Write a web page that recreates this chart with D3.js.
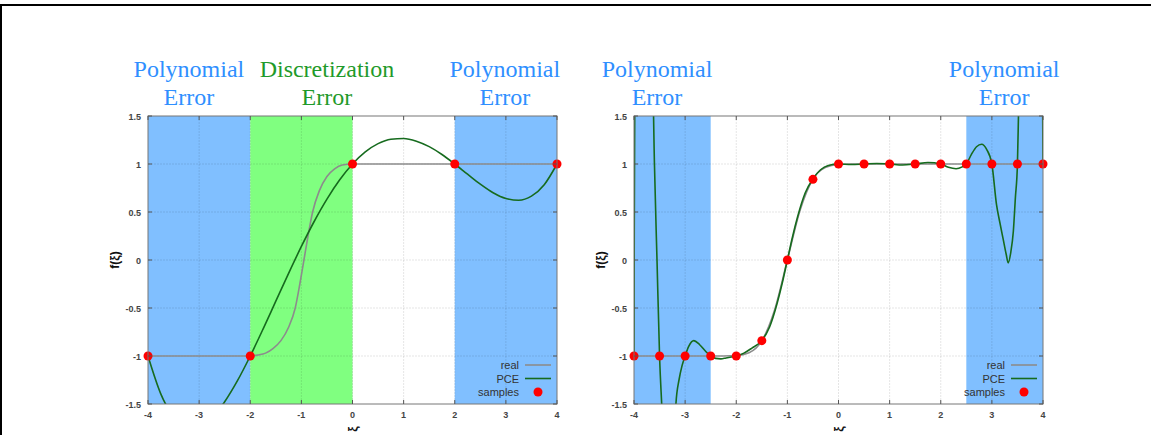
<!DOCTYPE html>
<html>
<head>
<meta charset="utf-8">
<script src="https://d3js.org/d3.v7.min.js"></script>
<style>
  body { margin: 0; background: #fff; }
  .tick-label { font: bold 9px "Liberation Sans", Arial, sans-serif; fill: #444; }
  .legend { font: 11px "Liberation Sans", Arial, sans-serif; fill: #333; }
  .title { font: 24px "Liberation Serif", "Times New Roman", serif; }
  .ylab { font: bold 12px "Liberation Sans", Arial, sans-serif; fill: #111; }
</style>
</head>
<body>
<script>
// ---- data ----
var xTicks = [-4, -3, -2, -1, 0, 1, 2, 3, 4];
var yTicks = [-1.5, -1, -0.5, 0, 0.5, 1, 1.5];

// left panel
var leftSampleX = [-4, -2, 0, 2, 4];
var leftSampleY = [-1, -1, 1, 1, 1];
var leftRealX = [-4, -2, -1.85, -1.7, -1.55, -1.4, -1.25, -1.12, -1.03, -0.95, -0.87, -0.78, -0.65, -0.5, -0.35, -0.2, 0, 4];
var leftRealY = [-1, -1, -0.99, -0.97, -0.92, -0.84, -0.7, -0.5, -0.25, 0, 0.25, 0.5, 0.72, 0.87, 0.95, 0.99, 1, 1];
var leftPceX = [-4, -3.75, -3.5, -3.25, -3, -2.75, -2.5, -2.25, -2, -1.75, -1.5, -1.25, -1, -0.75, -0.5, -0.25, 0,
                0.25, 0.5, 0.75, 1, 1.25, 1.5, 1.75, 2, 2.25, 2.5, 2.75, 3, 3.25, 3.5, 3.75, 4];
var leftPceY = [-1, -1.394, -1.632, -1.738, -1.734, -1.641, -1.476, -1.257, -1, -0.720, -0.429, -0.139, 0.141, 0.401, 0.634, 0.835, 1,
                1.126, 1.212, 1.258, 1.266, 1.238, 1.181, 1.099, 1, 0.894, 0.790, 0.701, 0.641, 0.623, 0.665, 0.784, 1];
var leftBands = [{from: -4, to: -2, color: "#80bfff"}, {from: -2, to: 0, color: "#80ff80"}, {from: 2, to: 4, color: "#80bfff"}];
var leftTitles = [
  {x: -3.2, lines: ["Polynomial", "Error"], color: "#2f8fff"},
  {x: -0.5, lines: ["Discretization", "Error"], color: "#1f9a2a"},
  {x: 2.98, lines: ["Polynomial", "Error"], color: "#2f8fff"}
];

// right panel
var rightSampleX = [-4, -3.5, -3, -2.5, -2, -1.5, -1, -0.5, 0, 0.5, 1, 1.5, 2, 2.5, 3, 3.5, 4];
var rightSampleY = [-1, -1, -1, -1, -1, -0.84, 0, 0.84, 1, 1, 1, 1, 1, 1, 1, 1, 1];
var rightRealX = [-4, -2.5, -2.25, -2, -1.75, -1.5, -1.25, -1, -0.75, -0.5, -0.25, 0, 0.25, 0.5, 4];
var rightRealY = [-1, -1, -0.9996, -0.9953, -0.9661, -0.8427, -0.5205, 0, 0.5205, 0.8427, 0.9661, 0.9953, 0.9996, 1, 1];
var rightPceX = [-4, -3.995, -3.985, -3.9, -3.8, -3.7, -3.64, -3.6, -3.55, -3.5, -3.45, -3.4, -3.3, -3.22, -3.18, -3.12, -3.06,
                 -3, -2.93, -2.83, -2.72, -2.6, -2.5, -2.4, -2.3, -2.2, -2.1, -2, -1.85, -1.7, -1.5, -1.35, -1.2, -1.1,
                 -1, -0.9, -0.8, -0.65, -0.5, -0.35, -0.2, 0, 0.25, 0.5, 0.75, 1, 1.25, 1.5, 1.75, 2, 2.15, 2.3, 2.42,
                 2.5, 2.6, 2.7, 2.8, 2.9, 3, 3.09, 3.16, 3.22, 3.28, 3.32, 3.37, 3.42, 3.46, 3.5, 3.52, 3.56, 3.65,
                 3.8, 3.9, 3.975, 3.993, 4];
var rightPceY = [-1, 0.3, 1.6, 7, 9, 6, 2.2, 1.0, 0.0, -1, -1.6, -2.3, -2.7, -2.2, -1.5, -1.25, -1.1,
                 -1, -0.9, -0.84, -0.88, -0.95, -1, -1.025, -1.03, -1.02, -1.01, -1, -0.97, -0.92, -0.84, -0.7, -0.45, -0.24,
                 0, 0.24, 0.45, 0.7, 0.845, 0.94, 0.985, 1, 0.995, 1, 1.005, 1, 0.99, 1, 1.015, 1, 0.965, 0.95, 0.97,
                 1, 1.1, 1.18, 1.205, 1.15, 1, 0.58, 0.38, 0.22, 0.06, -0.03, 0.08, 0.3, 0.65, 1, 1.5, 2.6, 5,
                 8, 7, 3, 1.6, 1];
var rightBands = [{from: -4, to: -2.5, color: "#80bfff"}, {from: 2.5, to: 4, color: "#80bfff"}];
var rightTitles = [
  {x: -3.55, lines: ["Polynomial", "Error"], color: "#2f8fff"},
  {x: 3.24, lines: ["Polynomial", "Error"], color: "#2f8fff"}
];

var W = 1151, H = 435;
var svg = d3.select("body").append("svg")
  .attr("width", W).attr("height", H);

svg.append("rect").attr("width", W).attr("height", H).attr("fill", "#fff");
// outer frame (top and left edges visible)
svg.append("path")
  .attr("d", "M1," + H + "V5H" + W)
  .attr("fill", "none").attr("stroke", "#000").attr("stroke-width", 2);

function zip(xs, ys) { return xs.map(function(x, i) { return {x: x, y: ys[i]}; }); }

function drawPanel(left, id, p) {
  var top = 116, bottom = 404, right = left + 409;
  var x = d3.scaleLinear().domain([-4, 4]).range([left, right]);
  var y = d3.scaleLinear().domain([-1.5, 1.5]).range([bottom, top]);
  var g = svg.append("g");

  g.append("clipPath").attr("id", id)
    .append("rect").attr("x", left).attr("y", top).attr("width", right - left).attr("height", bottom - top);

  // shaded regions
  g.selectAll(".band").data(p.bands).enter().append("rect")
    .attr("x", d => x(d.from)).attr("width", d => x(d.to) - x(d.from))
    .attr("y", top).attr("height", bottom - top)
    .attr("fill", d => d.color);

  // grid
  g.selectAll(".gx").data(xTicks.slice(1, -1)).enter().append("line")
    .attr("x1", d => x(d)).attr("x2", d => x(d)).attr("y1", top).attr("y2", bottom)
    .attr("stroke", "#000").attr("stroke-opacity", 0.1).attr("stroke-dasharray", "2,1");
  g.selectAll(".gy").data(yTicks.slice(1, -1)).enter().append("line")
    .attr("y1", d => y(d)).attr("y2", d => y(d)).attr("x1", left).attr("x2", right)
    .attr("stroke", "#000").attr("stroke-opacity", 0.1).attr("stroke-dasharray", "2,1");

  var line = d3.line().x(d => x(d.x)).y(d => y(d.y)).curve(d3.curveMonotoneX);
  var lines = g.append("g").attr("clip-path", "url(#" + id + ")");
  lines.append("path").datum(zip(p.realX, p.realY))
    .attr("d", line).attr("fill", "none").attr("stroke", "#8c8c8c").attr("stroke-width", 1.6);
  lines.append("path").datum(zip(p.pceX, p.pceY))
    .attr("d", line).attr("fill", "none").attr("stroke", "#166b1e").attr("stroke-width", 1.6);

  g.selectAll(".smp").data(zip(p.sampleX, p.sampleY)).enter().append("circle")
    .attr("cx", d => x(d.x)).attr("cy", d => y(d.y)).attr("r", 4.5).attr("fill", "#ff0000");

  // frame
  g.append("rect").attr("x", left).attr("y", top).attr("width", right - left).attr("height", bottom - top)
    .attr("fill", "none").attr("stroke", "#777").attr("stroke-width", 1);

  // ticks
  xTicks.forEach(function(t) {
    g.append("line").attr("x1", x(t)).attr("x2", x(t)).attr("y1", bottom).attr("y2", bottom - 4).attr("stroke", "#555");
    g.append("line").attr("x1", x(t)).attr("x2", x(t)).attr("y1", top).attr("y2", top + 4).attr("stroke", "#555");
    g.append("text").attr("class", "tick-label").attr("x", x(t)).attr("y", bottom + 14)
      .attr("text-anchor", "middle").text(t);
  });
  yTicks.forEach(function(t) {
    g.append("line").attr("x1", left).attr("x2", left + 4).attr("y1", y(t)).attr("y2", y(t)).attr("stroke", "#555");
    g.append("line").attr("x1", right).attr("x2", right - 4).attr("y1", y(t)).attr("y2", y(t)).attr("stroke", "#555");
    g.append("text").attr("class", "tick-label").attr("x", left - 7).attr("y", y(t) + 3.5)
      .attr("text-anchor", "end").text(t);
  });

  // axis labels
  g.append("text").attr("class", "ylab")
    .attr("transform", "translate(" + (left - 29) + "," + y(0) + ") rotate(-90)")
    .attr("text-anchor", "middle").text("f(ξ)");
  g.append("text").attr("class", "ylab")
    .attr("transform", "translate(" + (x(0) + 4) + "," + (bottom + 25) + ") rotate(-90)")
    .attr("text-anchor", "middle").text("ξ");

  // titles
  p.titles.forEach(function(t) {
    t.lines.forEach(function(s, i) {
      g.append("text").attr("class", "title").attr("x", x(t.x)).attr("y", 77 + i * 28)
        .attr("text-anchor", "middle").attr("fill", t.color).text(s);
    });
  });

  // legend
  var lx = right - 38, ly = 369;
  var items = [{name: "real", kind: "line", color: "#8c8c8c"}, {name: "PCE", kind: "line", color: "#166b1e"},
               {name: "samples", kind: "dot", color: "#ff0000"}];
  items.forEach(function(it, i) {
    var yy = ly + i * 13.5;
    g.append("text").attr("class", "legend").attr("x", lx).attr("y", yy)
      .attr("text-anchor", "end").text(it.name);
    if (it.kind === "line") {
      g.append("line").attr("x1", lx + 6).attr("x2", lx + 32).attr("y1", yy - 4).attr("y2", yy - 4)
        .attr("stroke", it.color).attr("stroke-width", 1.6);
    } else {
      g.append("circle").attr("cx", lx + 19).attr("cy", yy - 4).attr("r", 4.5).attr("fill", it.color);
    }
  });
}

drawPanel(148, "clipL", {bands: leftBands, titles: leftTitles,
  sampleX: leftSampleX, sampleY: leftSampleY, realX: leftRealX, realY: leftRealY, pceX: leftPceX, pceY: leftPceY});
drawPanel(634, "clipR", {bands: rightBands, titles: rightTitles,
  sampleX: rightSampleX, sampleY: rightSampleY, realX: rightRealX, realY: rightRealY, pceX: rightPceX, pceY: rightPceY});
</script>
</body>
</html>
